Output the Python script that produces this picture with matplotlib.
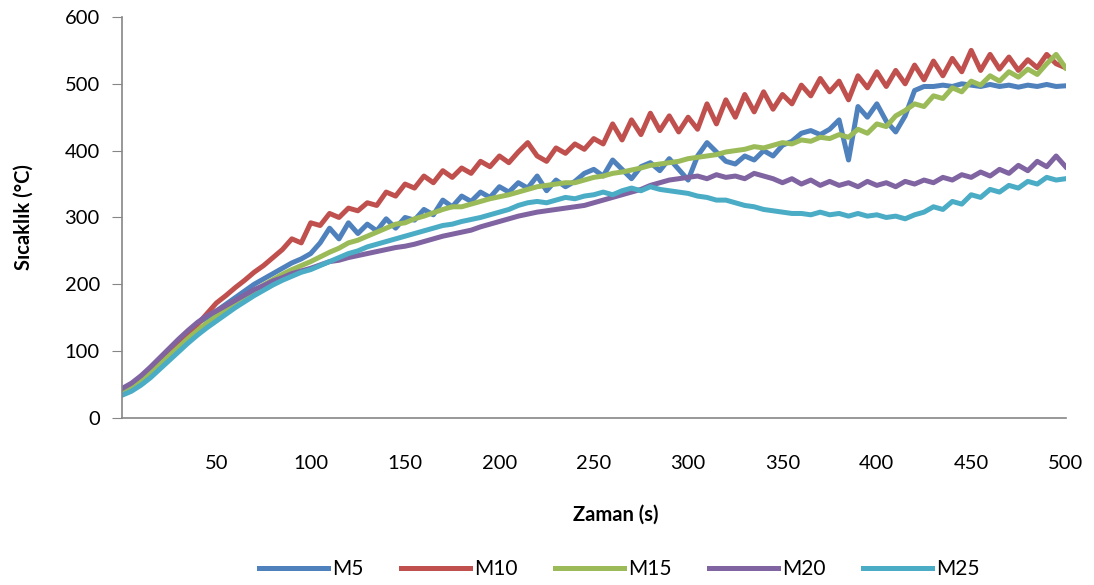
import matplotlib.pyplot as plt
import numpy as np

# zaman ekseni (s), 5 s aralikla
zaman = np.arange(0, 505, 5)

m5 = [42, 50, 60, 72, 86, 100, 114, 128, 142, 150, 160, 170, 180, 190, 200, 208, 216, 224, 232, 238,
      246, 262, 284, 268, 292, 276, 290, 280, 298, 284, 300, 296, 312, 304, 326, 316, 332, 324, 338, 330,
      346, 338, 352, 344, 362, 340, 356, 346, 354, 366, 372, 362, 386, 372, 358, 376, 382, 370, 388, 372,
      356, 392, 412, 398, 384, 380, 392, 386, 400, 392, 408, 414, 426, 430, 424, 432, 446, 386, 466, 450,
      470, 444, 428, 452, 490, 496, 496, 498, 496, 500, 498, 496, 499, 496, 498, 495, 498, 496, 499, 496,
      497]

m10 = [40, 48, 58, 70, 84, 98, 112, 126, 140, 156, 172, 183, 195, 206, 218, 228, 240, 252, 268, 262,
       292, 288, 306, 300, 314, 310, 322, 318, 338, 332, 350, 344, 362, 352, 370, 360, 374, 366, 384, 376,
       392, 382, 398, 412, 392, 384, 404, 396, 410, 402, 418, 410, 440, 416, 446, 424, 456, 430, 452, 428,
       450, 432, 470, 440, 476, 450, 484, 458, 488, 462, 484, 470, 498, 482, 508, 488, 504, 476, 512, 494,
       518, 496, 520, 500, 528, 506, 534, 512, 538, 518, 550, 520, 544, 522, 540, 520, 536, 524, 544, 530,
       524]

m15 = [40, 47, 56, 67, 80, 93, 106, 119, 131, 142, 152, 162, 172, 181, 190, 199, 207, 215, 222, 228,
       234, 241, 248, 254, 262, 266, 272, 278, 284, 290, 292, 298, 302, 307, 312, 316, 316, 320, 324, 328,
       331, 334, 338, 342, 346, 348, 350, 352, 352, 356, 360, 362, 366, 368, 371, 374, 378, 380, 382, 384,
       388, 390, 392, 394, 398, 400, 402, 406, 404, 408, 412, 410, 416, 414, 420, 418, 424, 420, 432, 426,
       440, 436, 452, 460, 470, 466, 482, 478, 494, 488, 504, 498, 512, 504, 518, 510, 522, 514, 530, 544,
       524]

m20 = [44, 52, 63, 76, 90, 104, 118, 131, 143, 153, 160, 168, 176, 184, 192, 198, 205, 210, 216, 220,
       224, 229, 234, 236, 240, 243, 246, 249, 252, 255, 257, 260, 264, 268, 272, 275, 278, 281, 286, 290,
       294, 298, 302, 305, 308, 310, 312, 314, 316, 318, 322, 326, 330, 334, 338, 342, 348, 352, 356, 358,
       360, 362, 358, 364, 360, 362, 358, 366, 362, 358, 352, 358, 350, 356, 348, 354, 348, 352, 346, 354,
       348, 352, 346, 354, 350, 356, 352, 360, 356, 364, 360, 368, 362, 372, 366, 378, 370, 384, 376, 392,
       376]

m25 = [34, 40, 49, 60, 73, 86, 99, 112, 124, 135, 145, 155, 165, 174, 183, 191, 199, 206, 212, 218,
       222, 228, 234, 240, 246, 250, 256, 260, 264, 268, 272, 276, 280, 284, 288, 290, 294, 297, 300, 304,
       308, 312, 318, 322, 324, 322, 326, 330, 328, 332, 334, 338, 334, 340, 344, 340, 346, 342, 340, 338,
       336, 332, 330, 326, 326, 322, 318, 316, 312, 310, 308, 306, 306, 304, 308, 304, 306, 302, 306, 302,
       304, 300, 302, 298, 304, 308, 316, 312, 324, 320, 334, 330, 342, 338, 348, 344, 354, 350, 360, 356,
       358]

seriler = [("M5", m5, "#4F81BD"), ("M10", m10, "#C0504D"), ("M15", m15, "#9BBB59"),
           ("M20", m20, "#8064A2"), ("M25", m25, "#4BACC6")]

plt.rcParams['font.family'] = ['Lato', 'DejaVu Sans']

fig = plt.figure(figsize=(10.94, 5.85), dpi=100)
ax = fig.add_axes([0.1115, 0.2855, 0.8625, 0.6855])

for ad, deger, renk in seriler:
    ax.plot(zaman, deger, color=renk, lw=3.6, label=ad, solid_joinstyle="round")

ax.set_xlim(0, 500)
ax.set_ylim(0, 600)
ax.set_yticks(range(0, 601, 100))
ax.set_xticks(range(50, 501, 50))

for s in ["top", "right"]:
    ax.spines[s].set_visible(False)
for s in ["left", "bottom"]:
    ax.spines[s].set_color("#868686")
    ax.spines[s].set_linewidth(1.2)

ax.tick_params(axis="y", direction="out", length=7, color="#868686", labelsize=14.5, pad=9)
ax.tick_params(axis="x", length=0, labelsize=14.5, pad=27)

ax.set_xlabel("Zaman (s)", fontsize=14.5, fontweight="bold")
ax.xaxis.set_label_coords(0.523, -0.215)
ax.set_ylabel("Sıcaklık (°C)", fontsize=14.5, fontweight="bold", labelpad=22)

fig.legend(loc="center", bbox_to_anchor=(0.566, 0.027), ncol=5, frameon=False,
           fontsize=15, handlelength=3.3, columnspacing=1.8, handletextpad=0.2)

fig.savefig("out.png", dpi=100)
